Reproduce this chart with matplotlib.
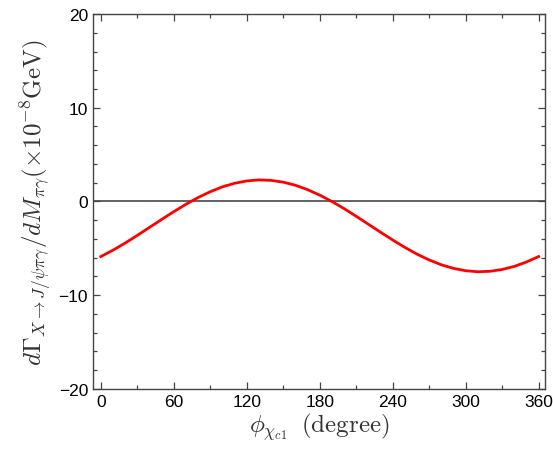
import matplotlib
matplotlib.use("Agg")
from matplotlib import pyplot as plt
from matplotlib.ticker import MultipleLocator
import numpy as np

# values
phi_deg = [0, 10, 20, 30, 40, 50, 60, 70, 80, 90, 100, 110, 120, 130, 140, 150, 160, 170, 180,
           190, 200, 210, 220, 230, 240, 250, 260, 270, 280, 290, 300, 310, 320, 330, 340, 350, 360]
dgamma = [-5.88, -5.20, -4.44, -3.62, -2.77, -1.92, -1.09, -0.30, 0.42, 1.04, 1.56, 1.94, 2.19,
          2.30, 2.25, 2.06, 1.73, 1.26, 0.68, 0.00, -0.76, -1.58, -2.43, -3.28, -4.11, -4.90,
          -5.62, -6.24, -6.76, -7.14, -7.39, -7.50, -7.45, -7.26, -6.93, -6.46, -5.88]
x_ticks = [0, 60, 120, 180, 240, 300, 360]
y_ticks = [-20, -10, 0, 10, 20]

plt.rcParams['mathtext.fontset'] = 'cm'
plt.rcParams['font.family'] = ['Liberation Sans', 'DejaVu Sans']

fig = plt.figure(figsize=(5.53, 4.56), dpi=100)
ax = fig.add_axes([0.168, 0.145, 0.817, 0.822])

ax.axhline(0, color='#555555', lw=1.3, zorder=1)
ax.plot(phi_deg, dgamma, color='#ff0000', lw=2, zorder=2)

ax.set_xlim(-6.5, 365)
ax.set_ylim(-20, 20)
ax.set_xticks(x_ticks)
ax.set_yticks(y_ticks)
ax.xaxis.set_minor_locator(MultipleLocator(30))
ax.yaxis.set_minor_locator(MultipleLocator(2))
ax.tick_params(which='both', direction='in', top=True, right=True, labelsize=12.5,
               color='#444444', width=0.9, labelcolor='black')
ax.tick_params(which='major', length=5)
ax.tick_params(which='minor', length=3)
for s in ax.spines.values():
    s.set_color('#444444')
    s.set_linewidth(1.0)

ax.set_xlabel(r'$\phi_{\chi_{c1}}\;\;\mathrm{(degree)}$', fontsize=18, color='#333333', labelpad=1)
ax.set_ylabel(r'$d\Gamma_{X\to J/\psi\pi\gamma}/dM_{\pi\gamma}(\times10^{-8}\mathrm{GeV})$',
              fontsize=18, color='#333333', labelpad=3)

fig.savefig('out.png', dpi=100)
